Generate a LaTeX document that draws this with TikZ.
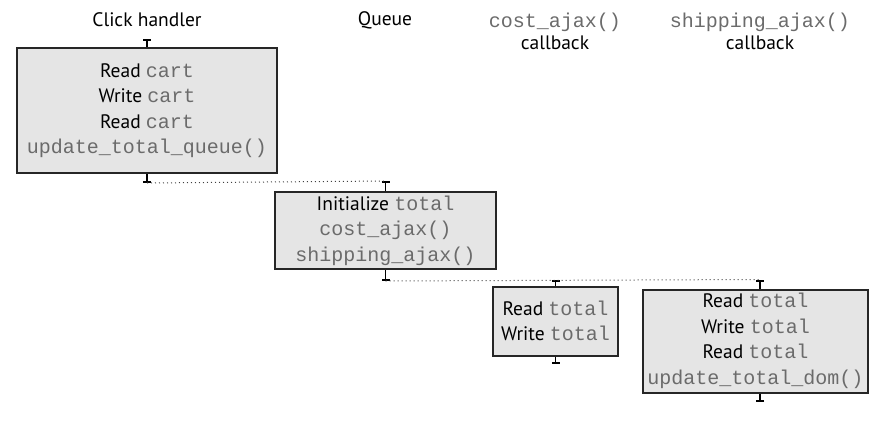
\documentclass[tikz,border=0pt]{standalone}
\usepackage{fontspec}
\setmainfont{PT Sans}
\setmonofont{Liberation Mono}
\usepackage{tikz}
\usetikzlibrary{positioning, arrows.meta, calc}

\definecolor{codegray}{gray}{0.42}
\newcommand{\code}[1]{{\ttfamily\fontsize{20}{25}\selectfont\color{codegray}#1}}

\begin{document}
\begin{tikzpicture}[x=1pt, y=-1pt,
  task/.style={draw=black!85, line width=2pt, fill=black!10, inner sep=0pt,
    align=center, font=\fontsize{19.5}{25.5}\selectfont},
  title/.style={align=center, font=\fontsize{19.5}{22}\selectfont},
  tick/.style={line width=1.4pt, -{Bar[width=8pt, line width=2pt]}},
  wait/.style={line width=1pt, black!75, dash pattern=on 1pt off 3pt}]

\useasboundingbox (0,0) rectangle (887,431);

% --- Column titles ---
\node[title] (thandler) at (147, 20) {Click handler};
\node[title] (tqueue) at (385, 20) {Queue};
\node[title] (tcost) at (555, 31) {\code{cost\_ajax()}\\callback};
\node[title] (tship) at (760, 31) {\code{shipping\_ajax()}\\callback};

% --- Tasks ---
\node[task, minimum width=260pt, minimum height=125pt] (handler) at (147, 110.5)
  {Read \code{cart}\\Write \code{cart}\\Read \code{cart}\\\code{update\_total\_queue()}};
\node[task, minimum width=221pt, minimum height=77pt] (queue) at (385.5, 230.5)
  {Initialize \code{total}\\\code{cost\_ajax()}\\\code{shipping\_ajax()}};
\node[task, minimum width=125pt, minimum height=69pt] (cost) at (555.5, 321)
  {Read \code{total}\\Write \code{total}};
\node[task, minimum width=225pt, minimum height=103pt] (ship) at (755.5, 341)
  {Read \code{total}\\Write \code{total}\\Read \code{total}\\\code{update\_total\_dom()}};

% Start and end ticks
\coordinate (handlerin) at ($(handler.north)+(0,-8)$);
\coordinate (handlerout) at ($(handler.south)+(0,9)$);
\coordinate (queuein) at ($(queue.north)+(0,-10)$);
\coordinate (queueout) at ($(queue.south)+(0,11)$);
\coordinate (costin) at ($(cost.north)+(0,-6)$);
\coordinate (costout) at ($(cost.south)+(0,7)$);
\coordinate (shipin) at ($(ship.north)+(4.5,-9)$);
\coordinate (shipout) at ($(ship.south)+(4.5,8)$);

\draw[tick] (handler.north) -- (handlerin);
\draw[tick] (handler.south) -- (handlerout);
\draw[tick] (queue.north) -- (queuein);
\draw[tick] (queue.south) -- (queueout);
\draw[tick] (cost.north) -- (costin);
\draw[tick] (cost.south) -- (costout);
\draw[tick] ($(ship.north)+(4.5,0)$) -- (shipin);
\draw[tick] ($(ship.south)+(4.5,0)$) -- (shipout);

% Waiting in the queue
\draw[wait] (handlerout) -- (queuein);
\draw[wait] (queueout) -- (shipin);

\end{tikzpicture}
\end{document}
